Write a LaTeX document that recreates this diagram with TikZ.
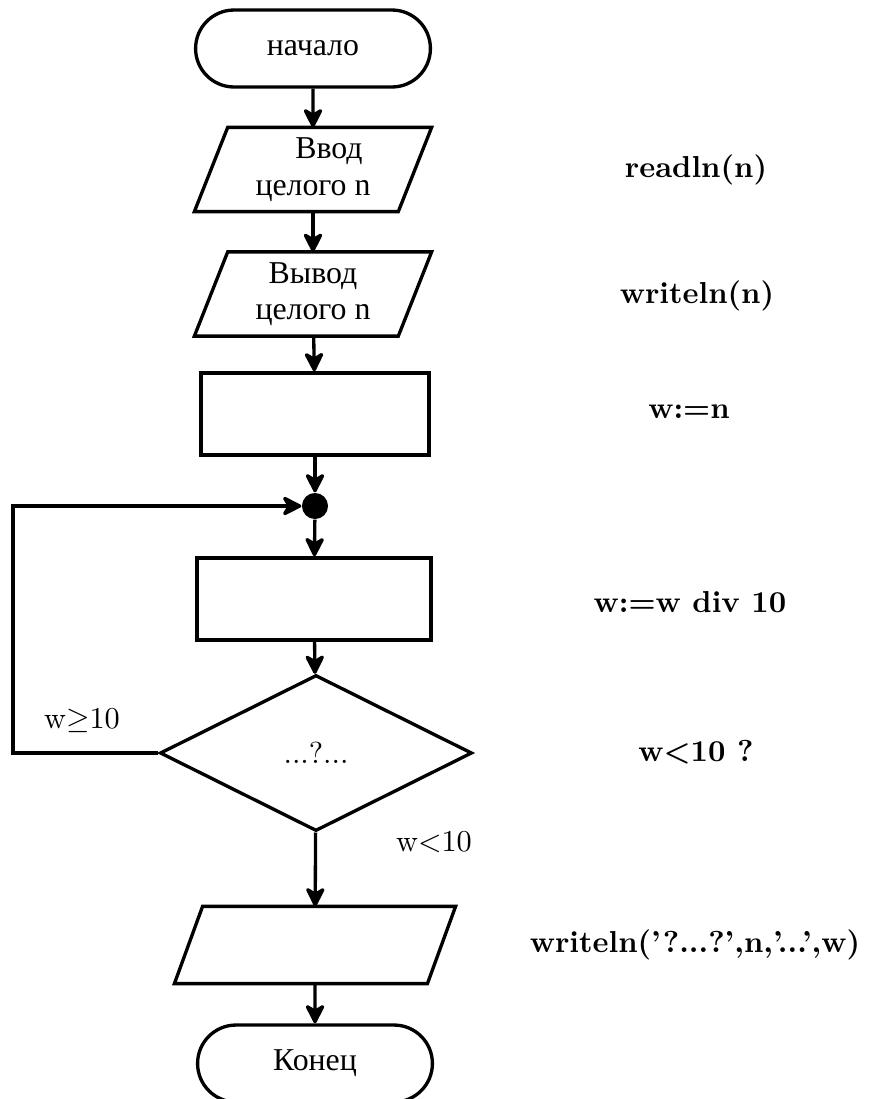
\documentclass[tikz,border=0pt]{standalone}
\usepackage{fontspec}
\newfontfamily\cyr{Liberation Serif}[Scale=1.05]
\usetikzlibrary{shapes.geometric,shapes.misc,arrows.meta}
\tikzset{
  lw/.style={line width=1.1pt},
  term/.style={lw,draw,rounded rectangle,minimum width=77.5pt,minimum height=25.4pt,inner sep=0pt,font=\cyr},
  io/.style={rectangle,minimum width=77.9pt,minimum height=27.4pt,inner sep=0pt,align=center,font=\cyr},
  proc/.style={lw,draw,rectangle,minimum height=27.1pt,inner sep=0pt},
  decis/.style={lw,draw,diamond,minimum width=103pt,minimum height=51.5pt,inner sep=0pt},
  joint/.style={circle,fill=black,minimum size=8.6pt,inner sep=0pt},
  arr/.style={lw,-{Stealth[length=7.5pt,width=7.5pt,inset=2.2pt,round]}},
  code/.style={font=\bfseries},
  lbl/.style={inner sep=0pt}
}
\newcommand\paraoutline[2]{%
  \draw[lw,line join=miter] ([xshift=#2]#1.north west) -- (#1.north east)
    -- ([xshift=-#2]#1.south east) -- (#1.south west) -- cycle;}
\begin{document}
\begin{tikzpicture}[x=0.33pt,y=-0.33pt]
\useasboundingbox (0,0) rectangle (873,1099);
\node[term] (start) at (313,48.5) {начало};
\node[io] (in) at (313,169.5) {\hspace*{10.5pt}Ввод\\целого n};
\paraoutline{in}{11pt}
\node[io] (out) at (313,294) {Вывод\\целого n};
\paraoutline{out}{11pt}
\node[proc,minimum width=75.2pt] (p1) at (315,414) {};
\node[joint] (dot) at (315,506) {};
\node[proc,minimum width=77.2pt] (p2) at (314,599) {};
\node[decis] (dia) at (316,753) {\raisebox{-2pt}{...?...}};
\node[io,minimum width=92.4pt,minimum height=25.1pt] (out2) at (315,945) {};
\paraoutline{out2}{9.3pt}
\node[term] (end) at (315,1063.5) {Конец};
\coordinate (loopc) at (13,753);

\draw[arr] (start) -- (in);
\draw[arr] (in) -- (out);
\draw[arr] (out) -- (p1);
\draw[arr] (p1) -- (dot);
\draw[arr] (dot) -- (p2);
\draw[arr] (p2) -- (dia);
\draw[arr] (dia.west) -- (loopc) |- (dot.west);
\draw[arr] (dia) -- (out2);
\draw[arr] (out2) -- (end);

\node[lbl] (lge) at (82,720) {w$\geq$10};
\node[lbl] (llt) at (434,842) {w<10};

\node[code] (c1) at (696,170) {readln(n)};
\node[code] (c2) at (697,296) {writeln(n)};
\node[code] (c3) at (689,412) {w:=n};
\node[code] (c4) at (690,602) {w:=w div 10};
\node[code] (c5) at (696,752) {w<10 ?};
\node[code] (c6) at (695,945) {writeln('?...?',n,'...',w)};
\end{tikzpicture}
\end{document}
